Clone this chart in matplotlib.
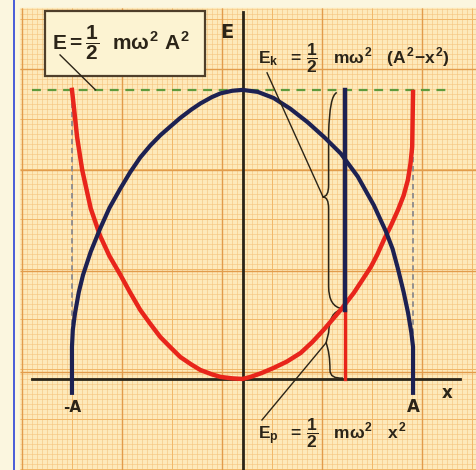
import matplotlib
matplotlib.use("Agg")
import matplotlib.pyplot as plt
import numpy as np
from matplotlib.patches import Rectangle, PathPatch
from matplotlib.path import Path

plt.rcParams["mathtext.fontset"] = "custom"
plt.rcParams["mathtext.rm"] = "Liberation Sans:bold"
plt.rcParams["mathtext.it"] = "Liberation Sans:bold"
plt.rcParams["mathtext.bf"] = "Liberation Sans:bold"

# energies in units of E (total), positions in units of A
ep_x = [-1.0, -0.985, -0.97, -0.94, -0.89, -0.835, -0.78, -0.718, -0.66, -0.60, -0.54,
        -0.482, -0.42, -0.365, -0.30, -0.247, -0.18, -0.129, -0.06, 0.0,
        0.047, 0.11, 0.182, 0.26, 0.341, 0.41, 0.476, 0.576, 0.653, 0.70, 0.753,
        0.79, 0.829, 0.87, 0.912, 0.945, 0.970, 0.985, 0.995, 1.0]
ep_y = [1.0, 0.92, 0.837, 0.723, 0.59, 0.495, 0.425, 0.362, 0.30, 0.239, 0.19,
        0.145, 0.108, 0.076, 0.050, 0.031, 0.016, 0.007, 0.002, 0.0,
        0.007, 0.020, 0.038, 0.060, 0.090, 0.128, 0.170, 0.239, 0.298, 0.34, 0.388,
        0.43, 0.481, 0.53, 0.585, 0.635, 0.689, 0.745, 0.803, 0.993]

ek_x = [-1.0, -1.0, -0.995, -0.982, -0.96, -0.935, -0.89, -0.835, -0.78, -0.718, -0.66,
        -0.60, -0.54, -0.482, -0.42, -0.365, -0.30, -0.247, -0.18, -0.129, -0.06, 0.0,
        0.09, 0.182, 0.28, 0.382, 0.48, 0.576, 0.676, 0.771, 0.841, 0.88, 0.912,
        0.945, 0.971, 0.99, 1.0, 1.0]
ek_y = [-0.048, 0.111, 0.17, 0.228, 0.30, 0.36, 0.44, 0.52, 0.592, 0.657, 0.714,
        0.766, 0.808, 0.843, 0.875, 0.903, 0.932, 0.953, 0.975, 0.988, 0.997, 1.0,
        0.993, 0.972, 0.935, 0.888, 0.836, 0.780, 0.700, 0.600, 0.510, 0.450, 0.380,
        0.300, 0.228, 0.160, 0.111, -0.048]

E_total = 1.0
x_bar = 0.6
ep_bar = 0.239

txt_E = r"$E = \dfrac{1}{2}\ \ m\omega^2\ A^2$"
txt_Ek = r"$E_k\ \ =\,\dfrac{1}{2}\ \ \ m\omega^2\ \ \ (A^2\!-\!x^2)$"
txt_Ep = r"$E_p\ \ =\,\dfrac{1}{2}\ \ \ m\omega^2\ \ \ x^2$"

ink = "#2b2418"
red = "#e8251b"
navy = "#1d2152"


def main():
    fig = plt.figure(figsize=(4.77, 4.70), dpi=100)

    # graph paper backdrop, pixel units
    bg = fig.add_axes([0, 0, 1, 1])
    bg.set_xlim(0, 477)
    bg.set_ylim(470, 0)
    bg.axis("off")
    bg.add_patch(Rectangle((0, 0), 477, 470, color="#fbf6df", zorder=0))
    bg.add_patch(Rectangle((20, 8), 457, 462, color="#fde9ba", zorder=0))
    bg.vlines(np.arange(22, 477, 5), 8, 470, color="#f5c47e", lw=0.55, alpha=0.75, zorder=1)
    bg.hlines(np.arange(9, 470, 5), 20, 477, color="#f5c47e", lw=0.55, alpha=0.75, zorder=1)
    bg.vlines(np.arange(22, 477, 50), 8, 470, color="#f1b86a", lw=0.7, zorder=1)
    bg.hlines(np.arange(19, 470, 50), 20, 477, color="#f1b86a", lw=0.7, zorder=1)
    bg.vlines(np.arange(22, 477, 100), 8, 470, color="#e29c4c", lw=1.0, zorder=1)
    bg.hlines(np.arange(69, 470, 101), 20, 477, color="#e29c4c", lw=1.0, zorder=1)
    bg.plot([14, 14], [0, 470], color="#3a4fd8", lw=1.3, zorder=2)
    bg.add_patch(Rectangle((45, 11), 160, 65, facecolor="#fcf3d2",
                           edgecolor="#4e3e2a", lw=1.6, zorder=5))

    ax = fig.add_axes([0, 0, 1, 1])
    ax.set_xlim(-1.422, 1.375)
    ax.set_ylim(-0.315, 1.311)
    ax.axis("off")
    ax.patch.set_alpha(0)

    # reference lines
    ax.plot([-1, -1], [0, E_total], color="#8c8a8e", lw=1.3, ls=(0, (3, 2)))
    ax.plot([1, 1], [0, E_total], color="#8c8a8e", lw=1.3, ls=(0, (3, 2)))
    ax.plot([-1.235, 1.22], [E_total, E_total], color="#5f9a3c", lw=1.6,
            ls=(0, (4, 3)))

    # axes
    ax.plot([-1.235, 1.276], [0, 0], color=ink, lw=2.0)
    ax.plot([0, 0], [-0.315, 1.27], color=ink, lw=2.0)

    # energy curves
    ax.plot(ep_x, ep_y, color=red, lw=3.2, solid_joinstyle="round")
    ax.plot(ek_x, ek_y, color=navy, lw=3.0, solid_joinstyle="round")

    # energy split at x_bar
    ax.plot([x_bar, x_bar], [0, ep_bar], color=red, lw=2.4)
    ax.plot([x_bar, x_bar], [ep_bar, E_total], color=navy, lw=3.2)

    # braces
    P = Path
    brace_k = Path([(0.553, 0.991), (0.51, 0.98), (0.505, 0.85),
                    (0.505, 0.67),
                    (0.505, 0.63), (0.47, 0.63),
                    (0.505, 0.63), (0.505, 0.59),
                    (0.505, 0.32),
                    (0.505, 0.25), (0.585, 0.243)],
                   [P.MOVETO, P.CURVE3, P.CURVE3, P.LINETO, P.CURVE3, P.CURVE3,
                    P.CURVE3, P.CURVE3, P.LINETO, P.CURVE3, P.CURVE3])
    ax.add_patch(PathPatch(brace_k, fill=False, edgecolor=ink, lw=1.1))
    brace_p = Path([(0.584, 0.239), (0.51, 0.235), (0.505, 0.16),
                    (0.49, 0.125),
                    (0.513, 0.09), (0.513, 0.03),
                    (0.513, 0.0), (0.589, 0.003)],
                   [P.MOVETO, P.CURVE3, P.CURVE3, P.LINETO, P.CURVE3, P.CURVE3,
                    P.CURVE3, P.CURVE3])
    ax.add_patch(PathPatch(brace_p, fill=False, edgecolor=ink, lw=1.1))

    # leader lines
    ax.plot([-1.07, -0.862], [1.121, 1.0], color=ink, lw=1.0)
    ax.plot([0.144, 0.472], [1.059, 0.63], color=ink, lw=1.0)
    ax.plot([0.114, 0.49], [-0.142, 0.125], color=ink, lw=1.0)

    # labels
    ax.text(-1.117, 1.163, txt_E, fontsize=15, color=ink, ha="left", va="center",
            zorder=6)
    ax.text(0.091, 1.111, txt_Ek, fontsize=12.5, color=ink, ha="left", va="center")
    ax.text(0.091, -0.187, txt_Ep, fontsize=12.5, color=ink, ha="left", va="center")
    ax.text(-0.091, 1.197, "E", fontsize=14, fontweight="bold", color=ink,
            ha="center", va="center")
    ax.text(-1.0, -0.100, "-A", fontsize=11, fontweight="bold", color=ink,
            ha="center", va="center")
    ax.text(1.0, -0.097, "A", fontsize=12, fontweight="bold", color=ink,
            ha="center", va="center")
    ax.text(1.199, -0.048, "x", fontsize=12, fontweight="bold", color=ink,
            ha="center", va="center")

    fig.savefig("out.png", dpi=100)


if __name__ == "__main__":
    main()
